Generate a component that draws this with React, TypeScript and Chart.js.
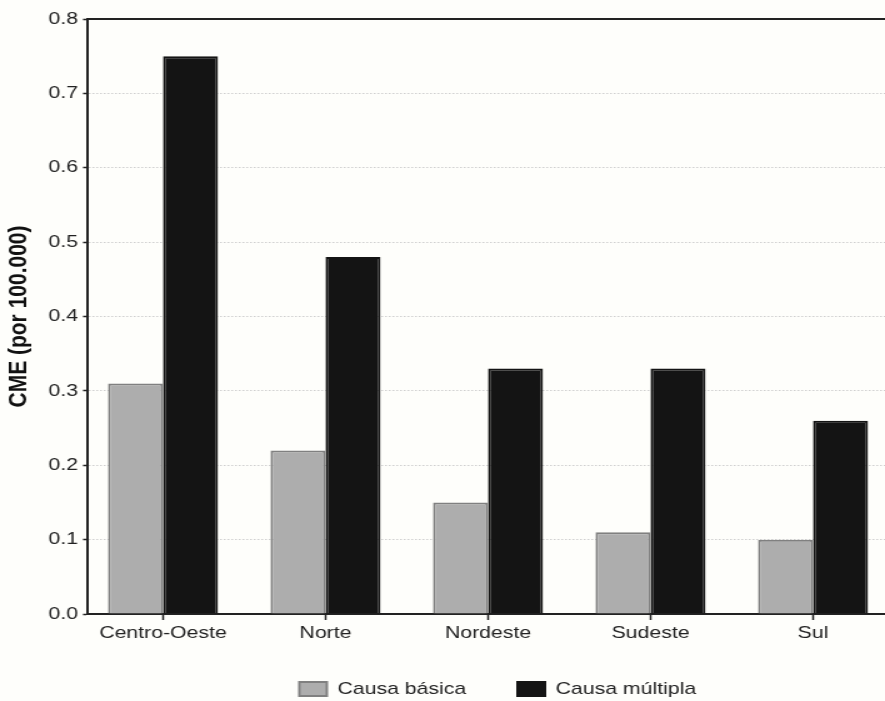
import React, { useEffect, useRef } from "react";
import { Chart, registerables } from "chart.js";

Chart.register(...registerables);

const categories = ["Centro-Oeste", "Norte", "Nordeste", "Sudeste", "Sul"];
const causaBasica = [0.31, 0.22, 0.15, 0.11, 0.1];
const causaMultipla = [0.75, 0.48, 0.33, 0.33, 0.26];
const yTicks = [0, 0.1, 0.2, 0.3, 0.4, 0.5, 0.6, 0.7, 0.8];
const seriesNames = ["Causa básica", "Causa múltipla"];

const FONT = "'Liberation Sans', Arial, Helvetica, sans-serif";
const STRETCH = 1.25;
const W = 885;
const H = 701;
const CW = Math.round(W / STRETCH);
const LEGEND_SHIFT = 9;

export default function App() {
  const ref = useRef<HTMLCanvasElement | null>(null);

  useEffect(() => {
    if (!ref.current) return;
    const topLine = {
      id: "topLine",
      afterDraw(chart: any) {
        const { ctx, chartArea } = chart;
        ctx.save();
        ctx.strokeStyle = "#222";
        ctx.lineWidth = 2;
        ctx.beginPath();
        ctx.moveTo(chartArea.left, chartArea.top);
        ctx.lineTo(chartArea.right, chartArea.top);
        ctx.stroke();
        ctx.restore();
      },
    };
    const legendShift = {
      id: "legendShift",
      afterLayout(chart: any) {
        if (chart.legend) {
          chart.legend.left += LEGEND_SHIFT;
          chart.legend.right += LEGEND_SHIFT;
        }
      },
    };
    const chart = new Chart(ref.current, {
      type: "bar",
      data: {
        datasets: [
          {
            label: seriesNames[0],
            data: categories.map((_, i) => ({ x: i, y: causaBasica[i] })),
            backgroundColor: "#adadad",
            borderColor: "#808080",
            borderWidth: 2,
          },
          {
            label: seriesNames[1],
            data: categories.map((_, i) => ({ x: i, y: causaMultipla[i] })),
            backgroundColor: "#141414",
            borderColor: "#141414",
            borderWidth: 2,
          },
        ],
      },
      plugins: [topLine, legendShift],
      options: {
        responsive: false,
        animation: false,
        devicePixelRatio: 1,
        events: [],
        layout: { padding: { top: 19, right: 0, left: 0, bottom: -6.5 } },
        datasets: {
          bar: { categoryPercentage: 0.677, barPercentage: 1 },
        },
        plugins: {
          tooltip: { enabled: false },
          legend: {
            position: "bottom",
            fullSize: false,
            labels: {
              font: { family: FONT, size: 17 },
              color: "#222",
              boxWidth: 22,
              boxHeight: 14,
              padding: 41,
            },
          },
        },
        scales: {
          x: {
            type: "linear",
            offset: false,
            min: -0.4615,
            max: 4.443,
            afterBuildTicks: (scale: any) => {
              scale.ticks = categories.map((_, i) => ({ value: i }));
            },
            afterFit: (scale: any) => {
              scale.height = 25.5;
            },
            ticks: {
              font: { family: FONT, size: 17 },
              color: "#222",
              padding: 3,
              autoSkip: false,
              maxRotation: 0,
              callback: (v: any) => categories[Math.round(Number(v))] ?? "",
            },
            grid: {
              display: true,
              offset: false,
              drawOnChartArea: false,
              drawTicks: true,
              tickLength: 6,
              tickColor: "#222",
              tickWidth: 1.5,
            },
            border: { display: true, color: "#222", width: 2 },
          },
          y: {
            min: 0,
            max: 0.8,
            afterBuildTicks: (scale: any) => {
              scale.ticks = yTicks.map((v) => ({ value: v }));
            },
            afterFit: (scale: any) => {
              scale.width = 70.4;
            },
            ticks: {
              font: { family: FONT, size: 17 },
              color: "#222",
              padding: 4,
              callback: (v: any) => Number(v).toFixed(1),
            },
            title: {
              display: true,
              text: "CME (por 100.000)",
              font: { family: FONT, size: 21, weight: "bold" },
              color: "#111",
              padding: { top: 2.5, bottom: 0 },
            },
            grid: {
              color: "#cfcfcf",
              lineWidth: 1,
              drawTicks: true,
              tickLength: 4,
              tickColor: "#222",
              tickWidth: 1.5,
            },
            border: { display: true, color: "#222", width: 2, dash: [1.5, 1.5] },
          },
        },
      },
    } as any);
    return () => chart.destroy();
  }, []);

  return (
    <div
      style={{
        position: "absolute",
        left: 0,
        top: 0,
        width: W,
        height: H,
        background: "#fefefb",
        overflow: "hidden",
      }}
    >
      <canvas
        ref={ref}
        width={CW}
        height={H}
        style={{ display: "block", width: W + "px", height: H + "px" }}
      />
    </div>
  );
}
